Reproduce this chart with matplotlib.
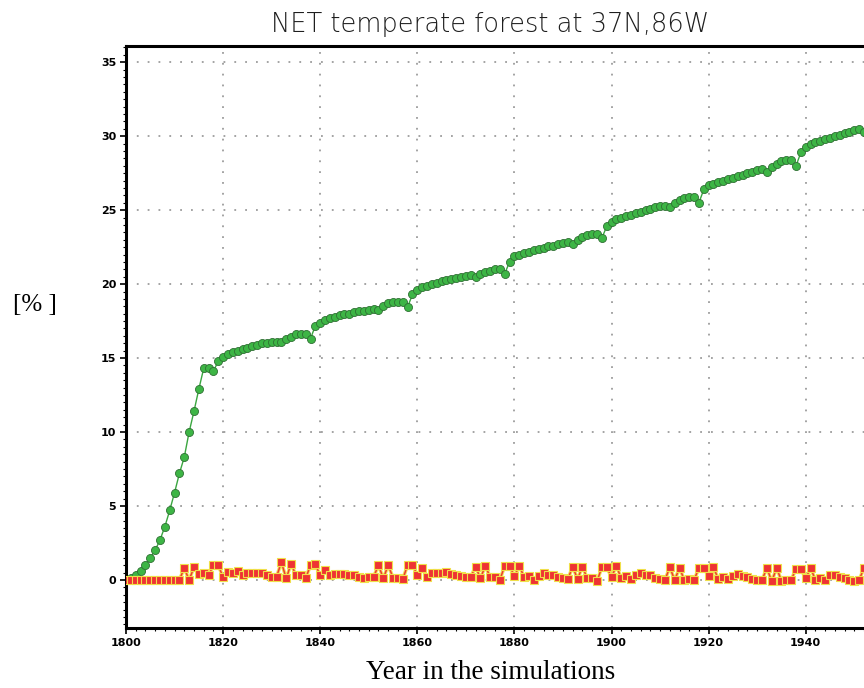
import numpy as np
import matplotlib
matplotlib.use("Agg")
import matplotlib.pyplot as plt
from matplotlib.ticker import MultipleLocator

# Annual series, 1800-1952
years = np.arange(1800, 1953)

cover = [
    0.0, 0.1, 0.3, 0.6, 1.0, 1.5, 2.0, 2.7, 3.6, 4.7,
    5.9, 7.2, 8.3, 10.0, 11.4, 12.9, 14.3, 14.3, 14.1, 14.8,
    15.1,
    15.3, 15.4, 15.5, 15.6, 15.7, 15.8, 15.9, 16.0, 16.0, 16.1,
    16.1, 16.1, 16.3, 16.4, 16.6, 16.6, 16.6, 16.3,
    17.2, 17.4, 17.6, 17.7, 17.8, 17.9, 17.95, 18.0, 18.1, 18.15,
    18.2, 18.25, 18.3, 18.25, 18.5, 18.7, 18.8, 18.8, 18.8, 18.45,
    19.3, 19.6, 19.8, 19.9, 20.0, 20.1, 20.2, 20.25, 20.35, 20.4,
    20.5, 20.55, 20.6, 20.45, 20.7, 20.8, 20.9, 21.0, 21.0, 20.7,
    21.5, 21.9, 22.0, 22.1, 22.2, 22.3, 22.35, 22.45, 22.55, 22.6,
    22.7, 22.8, 22.85, 22.7, 23.0, 23.2, 23.3, 23.4, 23.4, 23.1,
    23.9, 24.2, 24.4, 24.5, 24.6, 24.7, 24.8, 24.9, 25.0, 25.1,
    25.2, 25.25, 25.3, 25.2, 25.5, 25.7, 25.8, 25.9, 25.9, 25.5,
    26.4, 26.7, 26.8, 26.9, 27.0, 27.1, 27.2, 27.3, 27.4, 27.5,
    27.6, 27.7, 27.75, 27.6, 27.9, 28.1, 28.3, 28.4, 28.4, 28.0,
    28.9, 29.3, 29.5, 29.6, 29.7, 29.8, 29.9, 30.0, 30.1, 30.2,
    30.3, 30.4, 30.5, 30.3,
]

flux = [
    0.0, 0.0, 0.0, 0.0, 0.0, 0.0, 0.0, 0.0, 0.0, 0.0, 0.0, 0.0,
    0.8, 0.0, 0.85, 0.4, 0.5, 0.3, 1.0, 1.0, 0.18, 0.55,
    0.5, 0.6, 0.35, 0.45, 0.5, 0.45, 0.45, 0.3, 0.2, 0.2,
    1.2, 0.1, 1.1, 0.3, 0.3, 0.1, 1.0, 1.05, 0.3, 0.65,
    0.3, 0.4, 0.4, 0.4, 0.3, 0.3, 0.2, 0.15, 0.2, 0.2,
    1.0, 0.1, 1.0, 0.15, 0.15, 0.05, 1.0, 1.0, 0.35, 0.8,
    0.2, 0.45, 0.45, 0.5, 0.55, 0.4, 0.3, 0.25, 0.2, 0.2,
    0.9, 0.1, 0.95, 0.2, 0.2, 0.0, 0.95, 0.95, 0.25, 0.95,
    0.2, 0.25, 0.0, 0.25, 0.45, 0.35, 0.3, 0.2, 0.1, 0.05,
    0.9, 0.05, 0.9, 0.1, 0.1, -0.1, 0.85, 0.85, 0.2, 0.95,
    0.1, 0.25, 0.05, 0.35, 0.45, 0.3, 0.3, 0.1, 0.05, 0.0,
    0.85, 0.0, 0.8, 0.0, 0.05, 0.0, 0.8, 0.8, 0.25, 0.85,
    0.05, 0.2, 0.05, 0.25, 0.4, 0.25, 0.2, 0.05, 0.0, 0.0,
    0.8, -0.1, 0.8, -0.05, 0.0, 0.0, 0.75, 0.75, 0.1, 0.8,
    0.0, 0.1, 0.0, 0.35, 0.3, 0.2, 0.1, 0.0, -0.05, 0.0,
    0.8,
]

fig = plt.figure(figsize=(8.64, 6.88), dpi=100)
ax = fig.add_axes([126 / 864, 60 / 688, 1 - 126 / 864, 582 / 688])

ax.plot(years, cover, '-', color='#3aa640', linewidth=1.0,
        marker='o', markersize=5.8, markerfacecolor='#3db545',
        markeredgecolor='#2f6f33', markeredgewidth=0.6, zorder=3)

# red series: yellow halo under a thin red line
ax.plot(years, flux, '-', color='#f2e25a', linewidth=2.6, zorder=4)
ax.plot(years, flux, '-', color='#ee3b30', linewidth=1.1,
        marker='s', markersize=6.3, markerfacecolor='#ee3333',
        markeredgecolor='#f0e04a', markeredgewidth=0.8, zorder=5)

ax.set_xlim(1800, 1952)
ax.set_ylim(-3.25, 36.1)

ax.xaxis.set_major_locator(MultipleLocator(20))
ax.xaxis.set_minor_locator(MultipleLocator(2))
ax.yaxis.set_major_locator(MultipleLocator(5))
ax.yaxis.set_minor_locator(MultipleLocator(0.5))

ax.grid(True, which='major', color='#9c9c9c', linestyle=(0, (1, 5)),
        linewidth=1.3)
ax.set_axisbelow(True)

for side in ['left', 'bottom', 'top']:
    ax.spines[side].set_linewidth(2.2)
ax.spines['right'].set_visible(False)

ax.tick_params(which='major', direction='out', length=4, width=1.2,
               labelsize=8, pad=3)
ax.tick_params(which='minor', direction='out', length=2, width=0.8)
for lab in ax.get_xticklabels() + ax.get_yticklabels():
    lab.set_fontweight('bold')

fig.text(0.567, 0.965, 'NET temperate forest at 37N,86W',
         ha='center', va='center', fontsize=18.5, family='DejaVu Sans',
         fontweight='light', color='#1e1e1e')
fig.text(0.04, 0.556, '[% ]', ha='center', va='center', fontsize=18,
         family='Liberation Serif')
fig.text(0.568, 0.022, 'Year in the simulations', ha='center', va='center',
         fontsize=19.5, family='Liberation Serif')

fig.savefig('out.png', dpi=100)
